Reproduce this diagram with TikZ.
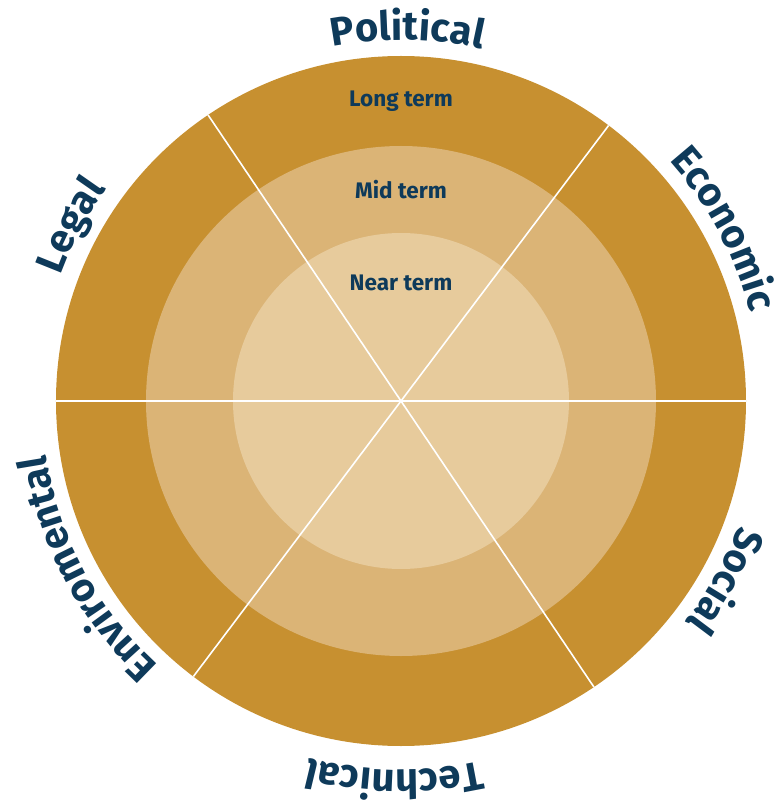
\documentclass[tikz,border=0pt]{standalone}
\usepackage{fontspec}
\setmainfont{Fira Sans}
\newfontfamily\sectorfam{Fira Sans}[LetterSpace=3]
\usetikzlibrary{decorations.text}

\definecolor{ringouter}{HTML}{C79030}
\definecolor{ringmid}{HTML}{DBB476}
\definecolor{ringinner}{HTML}{E7CB9C}
\definecolor{navy}{HTML}{0E3A5A}

\newcommand\sectorfont{\sectorfam\fontsize{40}{44}\selectfont\bfseries\color{navy}}

% curved label centred on angle #1, baseline radius #2, read clockwise
\newcommand\ringlabel[3]{%
  \pgfmathsetmacro\ringa{#1+55}%
  \pgfmathsetmacro\ringb{#1-55}%
  \path[decorate, decoration={text along path, text align=center,
      text={|\sectorfont|#3}}]
    (\ringa:#2) arc[start angle=\ringa, end angle=\ringb, radius=#2];%
}

\begin{document}
\begin{tikzpicture}[x=1pt, y=1pt,
  divider/.style={draw=white, line width=1.6pt},
  termlabel/.style={text=navy, font=\fontsize{22.5}{24}\selectfont\bfseries, inner sep=0pt}]
\useasboundingbox (-401,-402) rectangle (378,401);

% three horizon rings
\fill[ringouter] (0,0) circle[radius=345];
\fill[ringmid]   (0,0) circle[radius=255];
\fill[ringinner] (0,0) circle[radius=168];

% sector dividers
\coordinate (hub) at (0,0);
\coordinate (d0a) at (0:345);   \coordinate (d0b) at (180:345);
\coordinate (d1a) at (53:345);  \coordinate (d1b) at (233:345);
\coordinate (d2a) at (124:345); \coordinate (d2b) at (304:345);
\draw[divider] (d0b) -- (d0a);
\draw[divider] (d1b) -- (d1a);
\draw[divider] (d2b) -- (d2a);

% horizon labels
\node[termlabel] (long) at (0,300) {Long term};
\node[termlabel] (mid)  at (0,211) {Mid term};
\node[termlabel] (near) at (0,118) {Near term};

% sector labels
\ringlabel{89}{361}{Political}
\ringlabel{28}{360}{Economic}
\ringlabel{-29}{360}{Social}
\ringlabel{-91}{369}{Technical}
\ringlabel{208}{359}{Enviromental}
\ringlabel{152}{363}{Legal}
\end{tikzpicture}
\end{document}
